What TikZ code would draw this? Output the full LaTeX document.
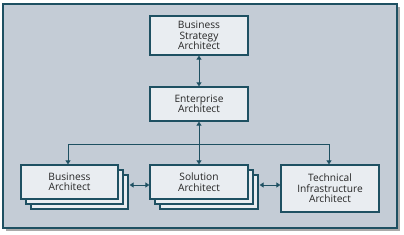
\documentclass[tikz,border=0pt]{standalone}
\usepackage{fontspec}
\setmainfont{Open Sans}
\usetikzlibrary{arrows.meta}
\definecolor{framedark}{RGB}{30, 80, 98}
\definecolor{panelgray}{RGB}{196, 204, 214}
\definecolor{boxfill}{RGB}{233, 237, 241}
\definecolor{shadowgray}{RGB}{170, 170, 170}
\tikzset{
  rolebox/.style={draw=framedark, line width=1.3pt, fill=boxfill, inner sep=0pt,
    align=center, font=\fontsize{10.2}{10.6}\selectfont, text=black!85},
  link/.style={draw=framedark, line width=0.9pt}
}

\begin{document}
\begin{tikzpicture}[x=1pt, y=-1pt, >={Triangle[length=4pt, width=5pt]}]
    \useasboundingbox (0,0) rectangle (404,234);
    % panel with shadow
    \fill[shadowgray] (6,7) rectangle (400,231);
    \draw[framedark, line width=1.6pt, fill=panelgray] (3,4) rectangle (397,228);
    % stacked copies behind
    \foreach \d in {10,5} {
      \node[rolebox, minimum width=97pt, minimum height=34pt] (ba\d) at (69.5+\d,182+\d) {};
      \node[rolebox, minimum width=98pt, minimum height=34pt] (sa\d) at (199+\d,182+\d) {};
    }
    \node[rolebox, minimum width=98pt, minimum height=39pt] (bsa) at (199,35.5) {Business\\Strategy\\Architect};
    \node[rolebox, minimum width=98pt, minimum height=34pt] (ea) at (199,104) {Enterprise\\Architect};
    \node[rolebox, minimum width=97pt, minimum height=34pt] (ba) at (69.5,182) {Business\\Architect};
    \node[rolebox, minimum width=98pt, minimum height=34pt] (sa) at (199,182) {Solution\\Architect};
    \node[rolebox, minimum width=98pt, minimum height=47pt] (tia) at (330,188.5) {Technical\\Infrastructure\\Architect};
    \coordinate (split) at (199,144);
    \draw[link, <->] (bsa) -- (ea);
    \draw[link, <->] (ea) -- (sa);
    \draw[link, ->] (split) -| ([xshift=-1.5pt]ba.north);
    \draw[link, ->] (split) -| ([xshift=-1pt]tia.north);
    \draw[link, <->] ([xshift=1pt]ba10.east |- 0,185) -- (sa.west |- 0,185);
    \draw[link, <->] ([xshift=1pt]sa10.east |- 0,185) -- (tia.west |- 0,185);
  \end{tikzpicture}
\end{document}
